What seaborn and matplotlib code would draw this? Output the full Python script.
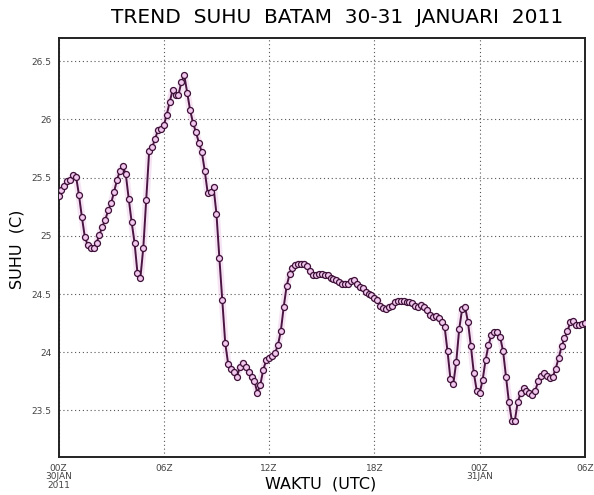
import numpy as np
import pandas as pd
import matplotlib
matplotlib.use('Agg')
import matplotlib.pyplot as plt
import seaborn as sns

# Suhu Batam tiap 10 menit, 30 Jan 00Z - 31 Jan 06Z 2011
suhu = [
    25.34, 25.39, 25.43, 25.47, 25.48, 25.52, 25.51, 25.35, 25.16, 24.99,
    24.92, 24.90, 24.90, 24.94, 25.01, 25.08, 25.14, 25.22, 25.28, 25.38,
    25.48, 25.56, 25.60, 25.53, 25.32, 25.12, 24.94, 24.68, 24.64, 24.90,
    25.31, 25.73, 25.76, 25.83, 25.91, 25.92, 25.95, 26.04, 26.15, 26.25,
    26.21, 26.21, 26.32, 26.38, 26.23, 26.08, 25.97, 25.89, 25.80, 25.72,
    25.56, 25.37, 25.38, 25.42, 25.19, 24.81, 24.45, 24.08, 23.90, 23.86,
    23.83, 23.79, 23.87, 23.91, 23.87, 23.83, 23.79, 23.75, 23.65, 23.72,
    23.85, 23.93, 23.95, 23.97, 23.99, 24.06, 24.18, 24.39, 24.57, 24.67,
    24.72, 24.75, 24.76, 24.76, 24.76, 24.74, 24.70, 24.66, 24.66, 24.67,
    24.67, 24.66, 24.66, 24.64, 24.63, 24.62, 24.60, 24.59, 24.59, 24.59,
    24.61, 24.62, 24.59, 24.56, 24.55, 24.52, 24.50, 24.49, 24.47, 24.45,
    24.40, 24.38, 24.37, 24.39, 24.40, 24.43, 24.44, 24.44, 24.44, 24.43,
    24.43, 24.42, 24.40, 24.39, 24.41, 24.39, 24.36, 24.32, 24.30, 24.31,
    24.29, 24.26, 24.22, 24.01, 23.77, 23.73, 23.92, 24.20, 24.37, 24.39,
    24.26, 24.05, 23.82, 23.67, 23.65, 23.76, 23.93, 24.06, 24.15, 24.17,
    24.17, 24.13, 24.01, 23.79, 23.57, 23.41, 23.41, 23.57, 23.65, 23.69,
    23.67, 23.65, 23.63, 23.67, 23.75, 23.80, 23.82, 23.80, 23.78, 23.79,
    23.86, 23.95, 24.05, 24.12, 24.18, 24.26, 24.27, 24.23, 24.23, 24.24,
    24.25,
]
waktu = pd.date_range('2011-01-30 00:00', periods=len(suhu), freq='10min')

tick_waktu = pd.date_range('2011-01-30 00:00', periods=6, freq='6h')
tick_label = ['00Z\n30JAN\n2011', '06Z', '12Z', '18Z', '00Z\n31JAN', '06Z']
y_ticks = [23.5, 24, 24.5, 25, 25.5, 26, 26.5]
y_labels = ['23.5', '24', '24.5', '25', '25.5', '26', '26.5']

sns.set_style('white')
plt.rcParams['font.family'] = ['DejaVu Sans']
plt.rcParams['text.color'] = 'black'
plt.rcParams['axes.labelcolor'] = 'black'

fig = plt.figure(figsize=(5.94, 4.95), dpi=100)
ax = fig.add_axes([0.0985, 0.0768, 0.8863, 0.8464])

# halo tipis di sekitar garis
ax.plot(waktu, suhu, color='#f1d3ee', linewidth=5, alpha=0.6, zorder=1)
sns.lineplot(x=waktu, y=suhu, ax=ax, color='#4a1542', linewidth=1.4,
             marker='o', markersize=4.3, markerfacecolor='#f3c8ee',
             markeredgecolor='#3c0f36', markeredgewidth=0.9, zorder=3)

ax.set_xlim(waktu[0], waktu[-1])
ax.set_ylim(23.1, 26.7)
ax.set_xticks(tick_waktu)
ax.set_xticklabels(tick_label, fontsize=6.5, color='#444444', linespacing=0.9)
ax.set_yticks(y_ticks)
ax.set_yticklabels(y_labels, fontsize=6.5, color='#444444')
ax.tick_params(axis='both', length=3, width=0.8, pad=2, color='#333333')

ax.grid(True, color='#555555', linestyle=(0, (1, 2.5)), linewidth=0.8)
for side in ['left', 'bottom', 'right', 'top']:
    ax.spines[side].set_color('#222222')
    ax.spines[side].set_linewidth(1.4)

ax.set_xlabel('WAKTU  (UTC)', fontsize=11.5)
ax.xaxis.set_label_coords(0.497, -0.046)
ax.set_ylabel('SUHU  (C)', fontsize=11.5)
ax.yaxis.set_label_coords(-0.064, 0.495)

fig.text(0.568, 0.964, 'TREND  SUHU  BATAM  30-31  JANUARI  2011',
         ha='center', va='center', fontsize=14.5)

plt.savefig('out.png', dpi=100)
